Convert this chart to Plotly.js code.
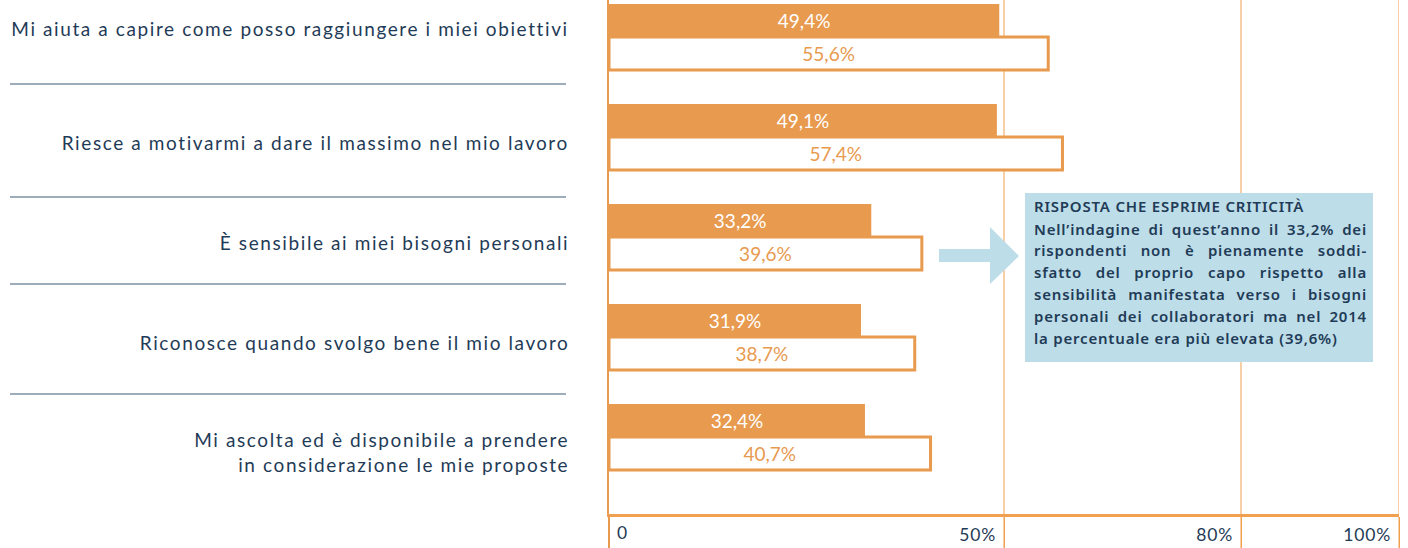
<!DOCTYPE html>
<html>
<head>
<meta charset="utf-8">
<script src="https://cdn.plot.ly/plotly-3.0.1.min.js"></script>
<style>
html,body{margin:0;padding:0;background:#fff;}
#chart{width:1408px;height:548px;}
</style>
</head>
<body>
<div id="chart"></div>
<script>
// ---- data ----
var categories = [
  "Mi aiuta a capire come posso raggiungere i miei obiettivi",
  "Riesce a motivarmi a dare il massimo nel mio lavoro",
  "È sensibile ai miei bisogni personali",
  "Riconosce quando svolgo bene il mio lavoro",
  "Mi ascolta ed è disponibile a prendere<br>in considerazione le mie proposte"
];
var values2016 = [49.4, 49.1, 33.2, 31.9, 32.4];
var values2014 = [55.6, 57.4, 39.6, 38.7, 40.7];
var tickValues = [50, 80, 100];
var tickLabels = ["50%", "80%", "100%"];
var zeroTick = [0];
var zeroLabel = ["0"];
var noteLines = [
  "RISPOSTA CHE ESPRIME CRITICITÀ",
  "Nell’indagine di quest’anno il 33,2% dei",
  "rispondenti non è pienamente soddi-",
  "sfatto del proprio capo rispetto alla",
  "sensibilità manifestata verso i bisogni",
  "personali dei collaboratori ma nel 2014",
  "la percentuale era più elevata (39,6%)"
];

// ---- styling ----
var ORANGE = "#e89a4f";
var GRID = "#f0a04e";
var NAVY = "#1f3b57";
var BLUE = "#bddde8";
var FONT = "Lato, 'Open Sans', sans-serif";
var NOTEFONT = "'Noto Sans', 'Open Sans', sans-serif";
function fmt(v){ return v.toFixed(1).replace(".", ",") + "%"; }

var W = 1408, H = 548, L = 609, R = 9, T = 0, B = 34;
var PW = W - L - R, PH = H - T - B;
function px(x){ return (x - L) / PW; }
function py(y){ return (H - B - y) / PH; }

var traces = [
  {
    type: "bar", orientation: "h", name: "2016",
    y: categories, x: values2016,
    text: values2016.map(fmt),
    textposition: "inside", insidetextanchor: "middle", textangle: 0,
    constraintext: "none",
    textfont: {family: FONT, size: 19, color: "#ffffff"},
    marker: {color: ORANGE, line: {width: 0}},
    hoverinfo: "skip", xaxis: "x", yaxis: "y"
  },
  {
    type: "bar", orientation: "h", name: "2014",
    y: categories, x: values2014,
    text: values2014.map(fmt),
    textposition: "inside", insidetextanchor: "middle", textangle: 0,
    constraintext: "none",
    textfont: {family: FONT, size: 19, color: ORANGE},
    marker: {color: "#ffffff", line: {width: 3, color: ORANGE}},
    hoverinfo: "skip", xaxis: "x", yaxis: "y"
  },
  {
    type: "scatter", mode: "markers", x: zeroTick, y: [categories[0]],
    marker: {opacity: 0}, hoverinfo: "skip", showlegend: false,
    xaxis: "x2", yaxis: "y"
  }
];

var shapes = [];
// vertical reference lines at the labelled ticks, running down through the tick-label band
tickValues.forEach(function(v){
  shapes.push({type: "line", xref: "x", yref: "paper",
    x0: v, x1: v, y0: py(H), y1: 1,
    line: {color: GRID, width: 1}, layer: "below"});
});
// separators between categories
[84, 197, 284, 394].forEach(function(y){
  shapes.push({type: "line", xref: "paper", yref: "paper",
    x0: px(10), x1: px(566), y0: py(y), y1: py(y),
    line: {color: "#3d5a78", width: 1}, layer: "above"});
});
// note box
shapes.push({type: "rect", xref: "paper", yref: "paper",
  x0: px(1025), x1: px(1373), y0: py(362), y1: py(193),
  fillcolor: BLUE, line: {width: 0}, layer: "above"});
// arrow
var ap = [[939,249],[990,249],[990,227],[1019,256],[990,284],[990,262],[939,262]];
shapes.push({type: "path", xref: "paper", yref: "paper",
  path: "M" + ap.map(function(p){ return px(p[0]) + "," + py(p[1]); }).join(" L") + " Z",
  fillcolor: BLUE, line: {width: 0}, layer: "above"});

// category labels (left side), vertical nudges per label
var labelNudge = [9, -5, -5, -5, -15];
var annotations = categories.map(function(c, i){
  return {xref: "paper", yref: "y", x: px(571), y: c, yshift: labelNudge[i],
    xanchor: "right", yanchor: "middle", showarrow: false, align: "right",
    text: c, captureevents: false,
    font: {family: FONT, size: 19, color: NAVY}};
});

var noteY = [206, 229, 250, 272, 294, 316, 338];
noteLines.forEach(function(t, i){
  annotations.push({xref: "paper", yref: "paper", x: px(1032), y: py(noteY[i]),
    xanchor: "left", yanchor: "middle", showarrow: false, align: "left",
    text: t, font: {family: NOTEFONT, size: 15, color: NAVY, weight: 600}});
});

var layout = {
  width: W, height: H,
  margin: {l: L, r: R, t: T, b: B, pad: 0},
  paper_bgcolor: "#ffffff", plot_bgcolor: "#ffffff",
  showlegend: false,
  barmode: "group", bargap: 0.34, bargroupgap: 0,
  xaxis: {
    range: [0, 100], fixedrange: true,
    tickmode: "array", tickvals: tickValues, ticktext: tickLabels,
    ticks: "outside", ticklen: 34, tickwidth: 1, tickcolor: GRID,
    ticklabelposition: "outside left", ticklabelstandoff: 3, ticklabelshift: -6,
    tickfont: {family: FONT, size: 17.5, color: NAVY},
    showgrid: false,
    showline: true, linecolor: GRID, linewidth: 3,
    zeroline: false
  },
  xaxis2: {
    overlaying: "x", matches: "x", anchor: "y", side: "bottom",
    range: [0, 100],
    tickmode: "array", tickvals: zeroTick, ticktext: zeroLabel,
    ticks: "outside", ticklen: 34, tickwidth: 2, tickcolor: ORANGE,
    ticklabelposition: "outside right", ticklabelstandoff: 3, ticklabelshift: 7,
    tickfont: {family: FONT, size: 17.5, color: NAVY},
    showgrid: false, showline: false, zeroline: false
  },
  yaxis: {
    type: "category", categoryorder: "array", categoryarray: categories,
    range: [4.77, -0.37], fixedrange: true,
    ticks: "", showticklabels: false,
    showgrid: false, zeroline: false,
    showline: true, linecolor: ORANGE, linewidth: 2
  },
  shapes: shapes,
  annotations: annotations
};

Plotly.newPlot("chart", traces, layout, {displayModeBar: false, staticPlot: true}).then(function(){
  function annText(i){ return document.querySelector('#chart g.annotation[data-index="' + i + '"] text'); }
  // wider tracking for the category labels (the original uses a wide rounded face)
  for (var i = 0; i < categories.length; i++) {
    var t = annText(i);
    if (t) t.style.letterSpacing = "1.6px";
  }
  // tick labels: slightly wider tracking
  var ticks = document.querySelectorAll("#chart .xtick text, #chart .x2tick text");
  for (var k = 0; k < ticks.length; k++) ticks[k].style.letterSpacing = "0.8px";
  // note: slight tracking, and justified body lines (all but title and last line)
  var target = 1365 - 1032;
  for (var j = 0; j < noteLines.length; j++) {
    var el = annText(categories.length + j);
    if (!el) continue;
    el.style.letterSpacing = "0.8px";
    if (j > 0 && j < noteLines.length - 1) {
      var len = el.getComputedTextLength();
      var spaces = (noteLines[j].match(/ /g) || []).length;
      if (spaces > 0 && len < target) el.style.wordSpacing = ((target - len) / spaces).toFixed(2) + "px";
    }
  }
});
</script>
</body>
</html>
